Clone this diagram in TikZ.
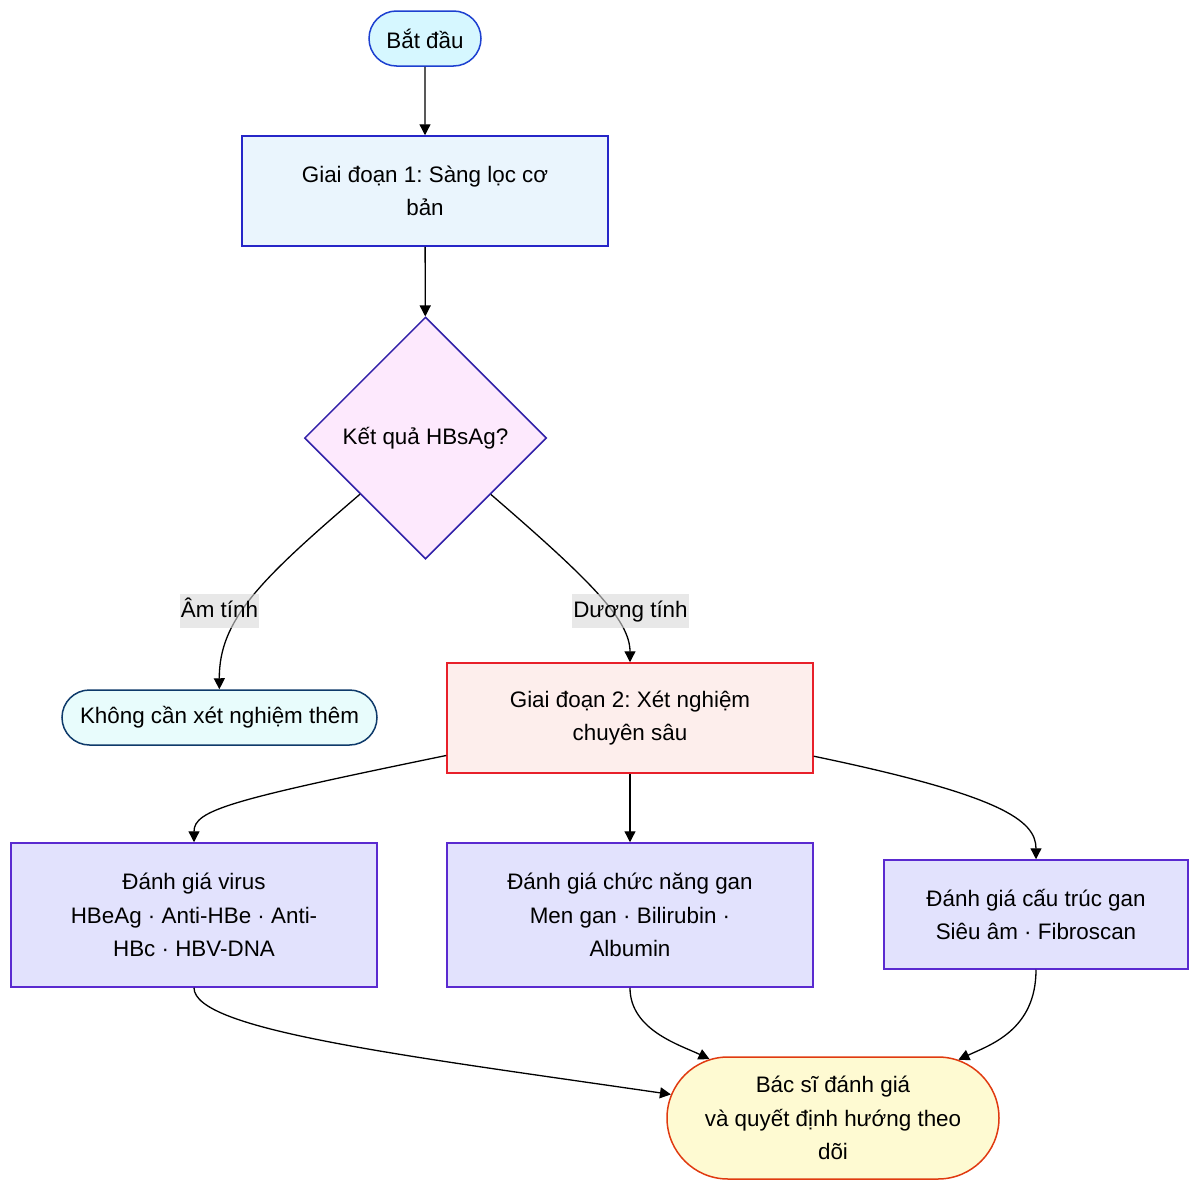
\documentclass[tikz,border=0pt]{standalone}
\usepackage{fontspec}
\setmainfont{Liberation Sans}
\frenchspacing
\usetikzlibrary{shapes.geometric,shapes.misc,arrows.meta}
\definecolor{startfill}{HTML}{D6F7FF}
\definecolor{startdraw}{HTML}{1D40D0}
\definecolor{s1fill}{HTML}{EAF5FD}
\definecolor{s1draw}{HTML}{2626C8}
\definecolor{diafill}{HTML}{FDE9FD}
\definecolor{diadraw}{HTML}{3020A8}
\definecolor{leaffill}{HTML}{E8FCFC}
\definecolor{leafdraw}{HTML}{0E3A6A}
\definecolor{s2fill}{HTML}{FDEEEC}
\definecolor{s2draw}{HTML}{E8202A}
\definecolor{grpfill}{HTML}{E2E2FD}
\definecolor{grpdraw}{HTML}{5A2AD0}
\definecolor{finfill}{HTML}{FEFAD2}
\definecolor{findraw}{HTML}{E03A10}
\definecolor{lblfill}{HTML}{D8D8D8}
\begin{document}
\begin{tikzpicture}[x=1pt,y=-1pt,
  every node/.style={font=\fontsize{22.4}{33.5}\selectfont, align=center, inner sep=0pt},
  stadium/.style={rounded rectangle, line width=1.5pt},
  boxnode/.style={rectangle, line width=1.5pt},
  conn/.style={line width=1.3pt, -{Triangle[length=11pt,width=11pt]}},
  lbl/.style={fill=lblfill, fill opacity=0.6, text opacity=1, inner xsep=1pt, text height=17pt, text depth=5pt, minimum height=34pt}
]
\useasboundingbox (0,0) rectangle (1200,1191);

\node[stadium, fill=startfill, draw=startdraw, minimum width=112pt, minimum height=55pt] (start) at (425,38.5) {Bắt đầu};
\node[boxnode, fill=s1fill, draw=s1draw, minimum width=366pt, minimum height=110pt] (s1) at (425,191) {Giai đoạn 1: Sàng lọc cơ\\bản};
\node[diamond, fill=diafill, draw=diadraw, line width=1.5pt, minimum width=242pt, minimum height=242pt] (dia) at (425.5,438) {Kết quả HBsAg?};
\node[stadium, fill=leaffill, draw=leafdraw, minimum width=315pt, minimum height=55pt] (leaf) at (219.5,717.5) {Không cần xét nghiệm thêm};
\node[boxnode, fill=s2fill, draw=s2draw, minimum width=366pt, minimum height=110pt] (s2) at (630,718) {Giai đoạn 2: Xét nghiệm\\chuyên sâu};
\node[boxnode, fill=grpfill, draw=grpdraw, minimum width=366pt, minimum height=144pt] (vir) at (194,915) {Đánh giá virus\\HBeAg · Anti-HBe · Anti-\\HBc · HBV-DNA};
\node[boxnode, fill=grpfill, draw=grpdraw, minimum width=366pt, minimum height=144pt] (liv) at (630,915) {Đánh giá chức năng gan\\Men gan · Bilirubin ·\\Albumin};
\node[boxnode, fill=grpfill, draw=grpdraw, minimum width=304pt, minimum height=109pt] (str) at (1036,914.5) {Đánh giá cấu trúc gan\\Siêu âm · Fibroscan};
\node[stadium, fill=finfill, draw=findraw, minimum width=332pt, minimum height=122pt] (fin) at (833,1118) {Bác sĩ đánh giá\\và quyết định hướng theo\\dõi};

\draw[conn] (start) -- (s1);
\draw[conn] (s1) -- (dia);
\draw[conn] (dia) .. controls (260,580) and (219,620) .. (leaf);
\draw[conn] (dia) .. controls (590,580) and (630,620) .. (s2);
\node[lbl] (lneg) at (219.5,611) {Âm tính};
\node[lbl] (lpos) at (630.5,611) {Dương tính};
\draw[conn] (s2) .. controls (230,800) and (194,810) .. (vir);
\draw[conn] (s2) -- (liv);
\draw[conn] (s2) .. controls (1000,795) and (1036,820) .. (str);
\draw[conn] (vir) .. controls (194,1030) and (400,1055) .. (fin);
\draw[conn] (liv) .. controls (630,1030) and (680,1045) .. (fin);
\draw[conn] (str) .. controls (1036,1030) and (990,1045) .. (fin);
\end{tikzpicture}
\end{document}
